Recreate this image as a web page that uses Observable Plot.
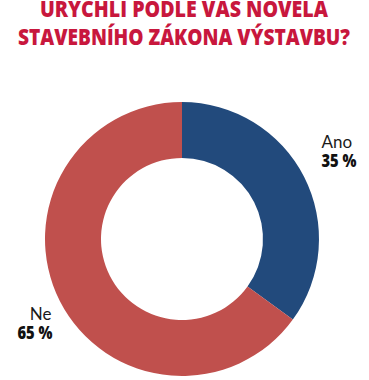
<!DOCTYPE html>
<html>
<head>
<meta charset="utf-8">
<script src="https://cdn.jsdelivr.net/npm/d3@7"></script>
<script src="https://cdn.jsdelivr.net/npm/@observablehq/plot@0.6"></script>
<style>
  html, body { margin: 0; padding: 0; background: #fff; }
  #chart { width: 369px; height: 380px; overflow: hidden; }
</style>
</head>
<body>
<div id="chart"></div>
<script>
// ---- data ----
const titleLines = ["URYCHLÍ PODLE VÁS NOVELA", "STAVEBNÍHO ZÁKONA VÝSTAVBU?"];
const categories = ["Ano", "Ne"];
const values = [35, 65];
const valueLabels = ["35 %", "65 %"];

// ---- layout / style ----
const W = 369, H = 380;
const colors = ["#224A7C", "#C0504D"];
const cx = 182, cy = 239, rOuter = 137, rInner = 81;
const titleColor = "#C8173D";

const data = categories.map((c, i) => ({category: c, value: values[i], label: valueLabels[i]}));
const pie = d3.pie().sort(null).value(d => d.value)(data);

// label layout: right side anchored start, left side anchored end
const labelData = pie.map(p => {
  const mid = (p.startAngle + p.endAngle) / 2;
  const right = Math.sin(mid) > 0;
  return {
    category: p.data.category,
    label: p.data.label,
    x: right ? 321 : 52,
    y: right ? 147 : 319,
    anchor: right ? "start" : "end"
  };
});

const donut = (index, scales) => {
  const g = d3.create("svg:g");
  const arc = d3.arc().innerRadius(rInner).outerRadius(rOuter);
  g.selectAll("path")
    .data(pie)
    .join("path")
    .attr("transform", `translate(${scales.x(cx)},${scales.y(cy)})`)
    .attr("d", arc)
    .attr("fill", d => scales.color(d.data.category));
  return g.node();
};

const right = labelData.filter(d => d.anchor === "start");
const left = labelData.filter(d => d.anchor === "end");
const valueFont = "'Open Sans', sans-serif";

const chart = Plot.plot({
  width: W,
  height: H,
  margin: 0,
  x: {domain: [0, W], range: [0, W], axis: null},
  y: {domain: [0, H], range: [0, H], axis: null},
  color: {type: "ordinal", domain: categories, range: colors},
  style: {fontFamily: "Lato, 'Open Sans', sans-serif", background: "#fff"},
  marks: [
    donut,
    Plot.text(titleLines, {
      x: W / 2 - 1,
      y: (d, i) => i === 0 ? 16 : 44,
      text: d => d,
      textAnchor: "middle",
      lineAnchor: "bottom",
      fontSize: 23,
      fontWeight: 800,
      fontFamily: "'Open Sans', sans-serif",
      fill: titleColor,
      className: "title-line"
    }),
    Plot.text(right, {
      x: "x", y: "y", text: "category", textAnchor: "start", lineAnchor: "bottom",
      fontSize: 17, fill: "#1a1a1a"
    }),
    Plot.text(right, {
      x: "x", y: d => d.y + 19, text: "label", textAnchor: "start", lineAnchor: "bottom",
      fontSize: 17.5, fontWeight: 800, fontFamily: valueFont, fill: "#111",
      className: "value-label"
    }),
    Plot.text(left, {
      x: d => d.x - 1, y: "y", text: "category", textAnchor: "end", lineAnchor: "bottom",
      fontSize: 17, fill: "#1a1a1a"
    }),
    Plot.text(left, {
      x: "x", y: d => d.y + 19, text: "label", textAnchor: "end", lineAnchor: "bottom",
      fontSize: 17.5, fontWeight: 800, fontFamily: valueFont, fill: "#111",
      className: "value-label"
    })
  ]
});

document.getElementById("chart").appendChild(chart);

// squeeze text to the condensed widths of the original
const widths = [288, 332];
chart.querySelectorAll(".title-line text").forEach((t, i) => {
  t.setAttribute("textLength", widths[i]);
  t.setAttribute("lengthAdjust", "spacingAndGlyphs");
});
chart.querySelectorAll(".value-label text").forEach(t => {
  t.setAttribute("textLength", 35);
  t.setAttribute("lengthAdjust", "spacingAndGlyphs");
});
</script>
</body>
</html>
